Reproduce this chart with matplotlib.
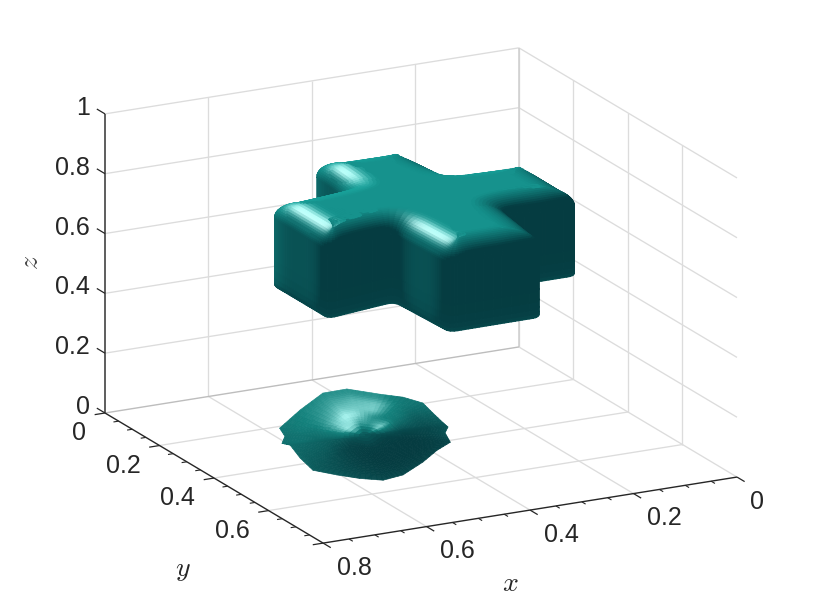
import numpy as np
import matplotlib
matplotlib.use("Agg")
import matplotlib.pyplot as plt
from mpl_toolkits.mplot3d import proj3d
from mpl_toolkits.mplot3d.art3d import Poly3DCollection

# ---- axes data
x_ticks = [0, 0.2, 0.4, 0.6, 0.8]
y_ticks = [0, 0.2, 0.4, 0.6, 0.8]
z_ticks = [0, 0.2, 0.4, 0.6, 0.8, 1]
x_labels = ["0", "0.2", "0.4", "0.6", "0.8"]
y_labels = ["0", "0.2", "0.4", "0.6"]
z_labels = ["0", "0.2", "0.4", "0.6", "0.8", "1"]
minor_ticks = [0.05, 0.1, 0.15, 0.25, 0.3, 0.35, 0.45, 0.5, 0.55, 0.65, 0.7, 0.75]

# ---- cross-shaped level set: outline
cross_x = [.647, .647, .505, .497, .318, .298, .157, .156, .297, .312, .478, .486]
cross_y = [.322, .528, .500, .688, .686, .513, .512, .320, .311, .160, .156, .295]
cross_zb, cross_zt = 0.56, 0.845

# ---- lower blob: silhouette (view plane, data units) and brightness per ring
blob_center = (0.552, 0.483, 0.12)
blob_right = [-.146, -.111, -.072, -.031, .026, .065, .099, .116, .134, .142, .137, .146,
              .123, .099, .065, .031, -.009, -.048, -.089, -.111, -.128, -.142, -.137]
blob_up = [.012, .043, .072, .079, .070, .065, .055, .038, .021, .014, .004, -.012,
           -.026, -.046, -.068, -.077, -.074, -.068, -.060, -.039, -.017, -.014, -.002]
blob_rings = [1.0, 0.9, 0.75, 0.6, 0.45, 0.25, 0.0]
blob_shade = [
    [.42, .50, .55, .55, .55, .42, .40, .28, .20, .18, .16, .08, .06, .06, .08, .10, .14, .20, .24, .30, .34, .38, .38],
    [.42, .52, .58, .58, .58, .45, .38, .26, .16, .12, .10, .04, .02, .02, .04, .06, .10, .14, .20, .26, .32, .38, .38],
    [.45, .55, .66, .72, .80, .50, .35, .22, .13, .08, .06, .02, .00, .00, .01, .03, .06, .10, .18, .24, .30, .38, .38],
    [.42, .62, .80, .80, .82, .52, .42, .28, .14, .08, .05, .00, .00, .00, .00, .01, .03, .07, .14, .22, .27, .32, .36],
    [.45, .78, 1.0, .90, .58, .50, .46, .34, .15, .08, .05, .00, .00, .00, .00, .00, .02, .04, .08, .16, .24, .30, .38],
    [.50, .95, .85, .62, .58, .70, .88, .50, .30, .18, .12, .05, .03, .02, .02, .02, .02, .03, .05, .10, .20, .30, .40],
    [.20] * 23,
]

W, H = 814, 611
plt.rcParams["font.family"] = ["Liberation Sans", "DejaVu Sans"]
plt.rcParams["mathtext.fontset"] = "cm"
fig = plt.figure(figsize=(W / 100, H / 100), dpi=100, facecolor="white")
ax = fig.add_axes([0.05, 0.05, 0.9, 0.9], projection="3d", proj_type="ortho", computed_zorder=False)
AZ, EL = 62.65, 17.97
SX, SY, SZ = 582.0, 593.0, 314.2
ax.view_init(elev=EL, azim=AZ)
ax.set_box_aspect((0.8 * SX, 0.8 * SY, 1.0 * SZ))
ax.set_axis_off()
ax.set_xlim(0, 0.8)
ax.set_ylim(0, 0.8)
ax.set_zlim(0, 1)
ax.set_xticks([])
ax.set_yticks([])
ax.set_zticks([])


def to_pixels(x, y, z):
    ax.apply_aspect()
    px, py, _ = proj3d.proj_transform(x, y, z, ax.get_proj())
    return ax.transData.transform((px, py))


# place the square axes so that two box corners land where the reference has them
L = 700.0
l0, b0 = 50.0, 0.0
for _ in range(3):
    ax.set_position([l0 / W, b0 / H, L / W, L / H])
    a = to_pixels(0.8, 0, 0)
    b = to_pixels(0, 0.8, 0)
    target_a = np.array([105.0, H - 413.0])
    target_b = np.array([737.0, H - 477.0])
    L *= np.linalg.norm(target_b - target_a) / np.linalg.norm(b - a)
    ax.set_position([l0 / W, b0 / H, L / W, L / H])
    a = to_pixels(0.8, 0, 0)
    l0 += target_a[0] - a[0]
    b0 += target_a[1] - a[1]
ax.set_position([l0 / W, b0 / H, L / W, L / H])

GRID = "#dcdcdc"
AXC = "#262626"
glw = 0.95


def line(xs, ys, zs, color=GRID, lw=glw, zorder=1):
    ax.plot(xs, ys, zs, color=color, lw=lw, zorder=zorder, solid_capstyle="butt")


xm, ym = 0.8, 0.8
# grid on back walls and floor
for v in x_ticks[:-1]:
    line([v, v], [0, 0], [0, 1])
    line([v, v], [0, ym], [0, 0])
for v in y_ticks[1:-1]:
    line([0, 0], [v, v], [0, 1])
    line([0, xm], [v, v], [0, 0])
for v in z_ticks[1:]:
    line([0, xm], [0, 0], [v, v])
    line([0, 0], [0, ym], [v, v])
line([0, 0], [0, 0], [0, 1], color="#cfcfcf", lw=1.1)
line([0, xm], [0, 0], [0, 0], color="#bdbdbd", lw=1.0)

# axes
line([0, xm], [ym, ym], [0, 0], color=AXC, lw=1.0, zorder=2)
line([xm, xm], [0, ym], [0, 0], color=AXC, lw=1.0, zorder=2)
line([xm, xm], [0, 0], [0, 1], color="#505050", lw=1.3, zorder=2)
for v in x_ticks:
    line([v, v], [ym, ym + 0.028], [0, 0], color=AXC, lw=0.9, zorder=2)
for v in minor_ticks:
    line([v, v], [ym, ym + 0.014], [0, 0], color=AXC, lw=0.8, zorder=2)
for v in y_ticks:
    line([xm, xm + 0.02], [v, v], [0, 0], color=AXC, lw=0.9, zorder=2)
for v in minor_ticks:
    line([xm, xm + 0.01], [v, v], [0, 0], color=AXC, lw=0.8, zorder=2)
for v in z_ticks:
    line([xm, xm], [0, -0.03], [v, v], color=AXC, lw=0.9, zorder=2)

# tick labels, placed from the projected axis positions
FS = 18.0
TXT = "#262626"


def label(x, y, z, s, ha):
    px, py = to_pixels(x, y, z)
    fig.text(px / W, py / H, s, ha=ha, va="center", fontsize=FS, color=TXT)


for v, s in zip(x_ticks, x_labels):
    label(v, ym + 0.0495, -0.055, s, "left")
for v, s in zip(y_ticks, y_labels):
    label(xm + 0.0367, v, -0.057, s, "right")
for v, s in zip(z_ticks, z_labels):
    label(xm + 0.029, 0, v + 0.028, s, "right")

fig.text(510 / W, 1 - 584 / H, r"$x$", ha="center", va="center", fontsize=20, color=TXT)
fig.text(183 / W, 1 - 570 / H, r"$y$", ha="center", va="center", fontsize=20, color=TXT)
fig.text(31 / W, 1 - 263 / H, r"$z$", ha="center", va="center", fontsize=20, color="#444444", rotation=90)

# view frame in box coordinates
az, el = np.radians(AZ), np.radians(EL)
V = np.array([np.cos(az) * np.cos(el), np.sin(az) * np.cos(el), np.sin(el)])
R = np.array([-np.sin(az), np.cos(az), 0.0])
U = np.array([-np.cos(az) * np.sin(el), -np.sin(az) * np.sin(el), np.cos(el)])


# ---- cross surface
def rounded_outline(xs, ys, r=0.016, step=0.007):
    P = np.column_stack([xs, ys])
    n = len(P)
    pts = []
    for i in range(n):
        p0, p1, p2 = P[i - 1], P[i], P[(i + 1) % n]
        d0 = (p0 - p1) / np.linalg.norm(p0 - p1)
        d2 = (p2 - p1) / np.linalg.norm(p2 - p1)
        a_, c_ = p1 + d0 * r, p1 + d2 * r
        for t in np.linspace(0, 1, 7):
            pts.append((1 - t) ** 2 * a_ + 2 * t * (1 - t) * p1 + t ** 2 * c_)
    pts = np.array(pts)
    seg = np.linalg.norm(np.diff(np.vstack([pts, pts[:1]]), axis=0), axis=1)
    s = np.concatenate([[0], np.cumsum(seg)])
    q = np.arange(0, s[-1], step)
    closed = np.vstack([pts, pts[:1]])
    return np.column_stack([np.interp(q, s, closed[:, 0]), np.interp(q, s, closed[:, 1])])


out = rounded_outline(cross_x, cross_y)
N = len(out)
tan = np.roll(out, -1, axis=0) - np.roll(out, 1, axis=0)
tan /= np.linalg.norm(tan, axis=1, keepdims=True)
nor = np.column_stack([tan[:, 1], -tan[:, 0]])


def smooth_normals(k):
    win = np.arange(1, k + 2, dtype=float)
    win = np.concatenate([win, win[-2::-1]])
    win /= win.sum()
    res = np.zeros_like(nor)
    for c_i in range(2):
        wrapped = np.concatenate([nor[-k:, c_i], nor[:, c_i], nor[:k, c_i]])
        res[:, c_i] = np.convolve(wrapped, win, mode="valid")
    return res / np.linalg.norm(res, axis=1, keepdims=True)


smooth = smooth_normals(10)
ri, rz = 0.062, 0.055
rings = []  # (phi deg, z, inset)
for phi, dz, ins in [(-35, 0, .002), (-20, .005, 0), (-10, .014, 0), (-5, .03, 0), (-2, .055, 0), (0, .09, 0)]:
    rings.append((phi, cross_zb + dz, ins))
rings.append((0, cross_zt - rz, 0))
for phi in np.arange(6, 90.1, 6):
    pr = np.radians(phi)
    rings.append((phi, cross_zt - rz * (1 - np.sin(pr)), ri * (1 - np.cos(pr))))

P_all, N_all = [], []
for phi, z, ins in rings:
    pr = np.radians(phi)
    xy = out - smooth * ins
    P_all.append(np.column_stack([xy, np.full(N, z)]))
    N_all.append(np.column_stack([smooth * np.cos(pr), np.full(N, np.sin(pr))]))
center = np.array([0.40, 0.415])
base = P_all[-1][:, :2]
for t in [0.8, 0.6, 0.4, 0.2, 0.0]:
    xy = center + (base - center) * t
    P_all.append(np.column_stack([xy, np.full(N, cross_zt)]))
    N_all.append(np.tile([0.0, 0.0, 1.0], (N, 1)))
P_all = np.array(P_all)
N_all = np.array(N_all)

L_d = np.array([0.22, -0.48, 0.85])
L_d /= np.linalg.norm(L_d)
H_s = np.array([0.60, 0.0, 0.80])
H_s /= np.linalg.norm(H_s)
AMB = np.array([5, 60, 65.0])
DIF = np.array([18, 100, 88.0])
LOW = np.array([4, 32, 28.0])
SPEC = np.array([175, 118, 118.0])


def shade(n):
    d = np.clip(n @ L_d, 0, None)[..., None]
    s = np.clip(n @ H_s, 0, None)[..., None] ** 22
    low = np.clip(-n[..., 2], 0, None)[..., None]
    return np.clip(AMB + DIF * d + LOW * low + SPEC * s, 0, 255) / 255


faces, cols = [], []
nextN = (np.arange(N) + 1) % N
for r_i in range(len(P_all) - 1):
    a1 = P_all[r_i]
    a2 = P_all[r_i][nextN]
    b2 = P_all[r_i + 1][nextN]
    b1 = P_all[r_i + 1]
    nn = N_all[r_i] + N_all[r_i][nextN] + N_all[r_i + 1] + N_all[r_i + 1][nextN]
    nn = nn / np.linalg.norm(nn, axis=1, keepdims=True)
    vis = nn @ V > -0.25
    quads = np.stack([a1, a2, b2, b1], axis=1)[vis]
    faces.append(quads)
    cols.append(shade(nn[vis]))
faces = np.concatenate(faces)
cols = np.concatenate(cols)
pc = Poly3DCollection(list(faces), facecolors=cols, edgecolors=cols, linewidths=0.9, zorder=4)
ax.add_collection3d(pc)

# ---- blob surface, brightness interpolated over each coarse cell
stops = np.array([0.0, 0.5, 1.0])
stop_cols = np.array([[5, 60, 65], [20, 130, 125], [175, 250, 245]], dtype=float) / 255
BR = np.array(blob_right)
BU = np.array(blob_up)
scales = np.array([SX, SY, SZ])
c_box = np.array(blob_center) * scales
shade_arr = np.array(blob_shade)
nr, nl = shade_arr.shape
sub = 4
b_faces, b_cols = [], []
rr = np.array(blob_rings)
for i in range(nr - 1):
    for j in range(nl):
        j2 = (j + 1) % nl
        for p in range(sub):
            for q in range(sub):
                corners = []
                vals = []
                for (dp, dq) in [(0, 0), (1, 0), (1, 1), (0, 1)]:
                    tp = (p + dp) / sub
                    tq = (q + dq) / sub
                    s = rr[i] * (1 - tp) + rr[i + 1] * tp
                    rv = BR[j] * (1 - tq) + BR[j2] * tq
                    uv = BU[j] * (1 - tq) + BU[j2] * tq
                    d = 0.12 * np.sqrt(max(1 - s * s, 0))
                    pt = c_box + 584 * (s * rv * R + s * uv * U + d * V)
                    corners.append(pt / scales)
                    vv = (shade_arr[i, j] * (1 - tq) + shade_arr[i, j2] * tq) * (1 - tp) + \
                         (shade_arr[i + 1, j] * (1 - tq) + shade_arr[i + 1, j2] * tq) * tp
                    vals.append(vv)
                m = np.mean(vals)
                b_faces.append(corners)
                b_cols.append([np.interp(m, stops, stop_cols[:, c]) for c in range(3)])
bc = Poly3DCollection(b_faces, facecolors=b_cols, edgecolors=b_cols, linewidths=0.5, zorder=3)
ax.add_collection3d(bc)

ax.set_xlim(0, 0.8)
ax.set_ylim(0, 0.8)
ax.set_zlim(0, 1)
fig.savefig("out.png", dpi=100, facecolor="white")
